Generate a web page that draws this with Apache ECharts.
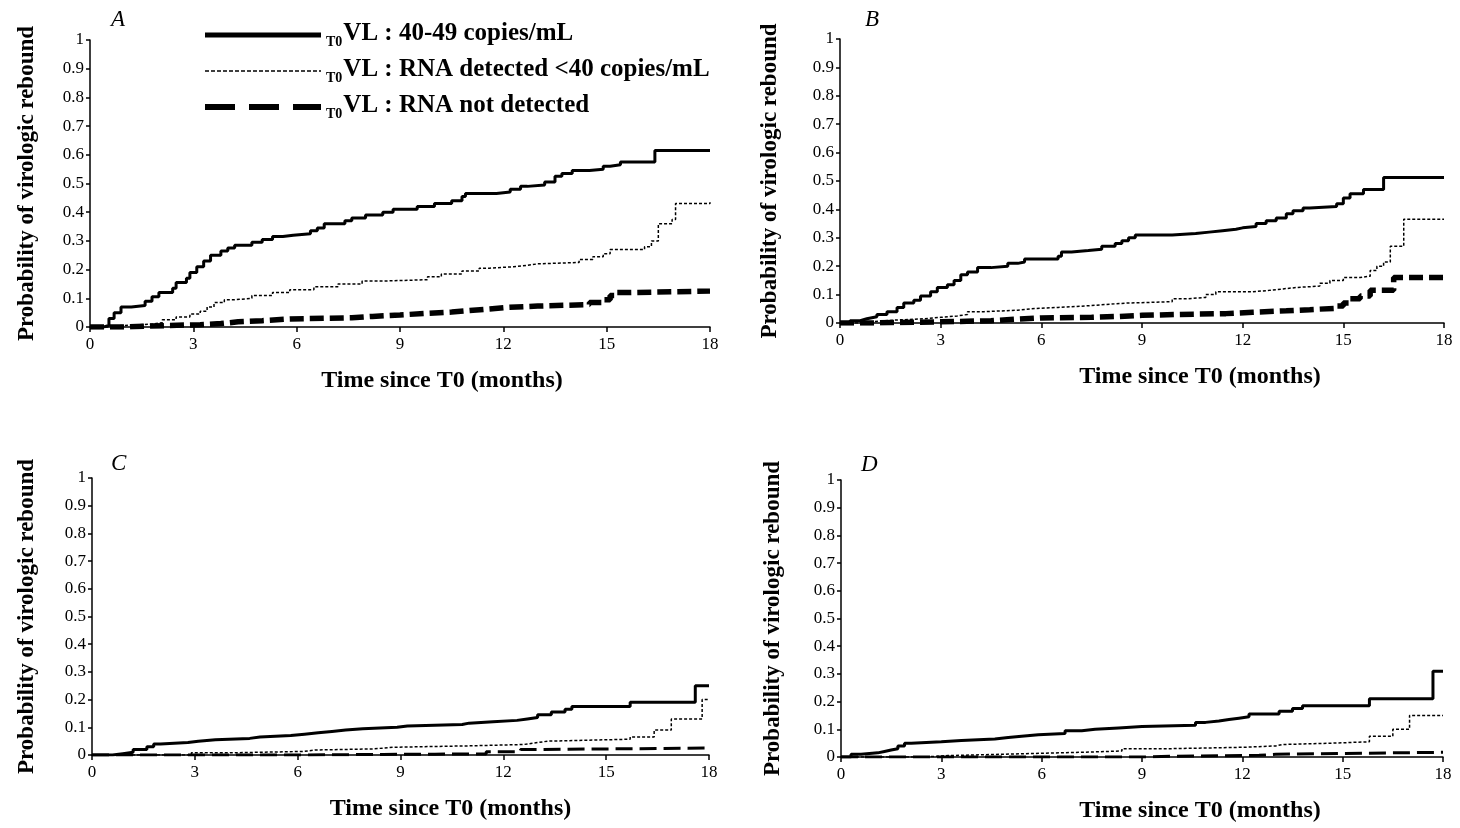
<!DOCTYPE html>
<html>
<head>
<meta charset="utf-8">
<script src="https://cdn.jsdelivr.net/npm/echarts@6/dist/echarts.min.js"></script>
<style>
html,body{margin:0;padding:0;background:#fff;}
#chart{width:1460px;height:828px;}
</style>
</head>
<body>
<div id="chart"></div>
<script>
// ---------- DATA ----------
const panelLetters = ['A', 'B', 'C', 'D'];
const seriesNames = ['T0VL : 40-49 copies/mL', 'T0VL : RNA detected <40 copies/mL', 'T0VL : RNA not detected'];
const xTicks = [0, 3, 6, 9, 12, 15, 18];
const xTitle = 'Time since T0 (months)';
const yTitle = 'Probability of virologic rebound';

// Panel A  [month, probability]
const A_vl4049 = [[0,0],[0.4,0.005],[0.55,0.03],[0.7,0.05],[0.9,0.07],[1.2,0.075],[1.6,0.09],[1.8,0.105],[2.0,0.12],[2.4,0.135],[2.5,0.155],[2.8,0.17],[2.9,0.19],[3.1,0.21],[3.3,0.23],[3.5,0.25],[3.8,0.265],[4.0,0.275],[4.2,0.285],[4.7,0.295],[5.0,0.305],[5.3,0.315],[5.6,0.32],[5.9,0.325],[6.4,0.335],[6.6,0.345],[6.8,0.36],[7.4,0.37],[7.6,0.38],[8.0,0.39],[8.5,0.4],[8.8,0.41],[9.5,0.42],[10.0,0.43],[10.5,0.44],[10.8,0.455],[10.9,0.465],[11.8,0.47],[12.2,0.48],[12.5,0.49],[12.7,0.495],[13.2,0.505],[13.5,0.525],[13.7,0.535],[14.0,0.545],[14.5,0.55],[14.9,0.56],[15.1,0.565],[15.4,0.575],[16.4,0.615],[18,0.615]];
const A_detected = [[0,0],[0.5,0.005],[0.9,0.01],[1.8,0.015],[2.1,0.025],[2.5,0.035],[2.9,0.045],[3.2,0.055],[3.4,0.07],[3.6,0.085],[3.9,0.095],[4.2,0.1],[4.7,0.11],[5.3,0.12],[5.8,0.13],[6.5,0.14],[7.2,0.15],[7.9,0.16],[8.5,0.165],[9.8,0.175],[10.2,0.185],[10.8,0.195],[11.3,0.205],[11.6,0.21],[12.3,0.215],[12.7,0.22],[13.0,0.225],[14.2,0.235],[14.6,0.245],[14.9,0.255],[15.1,0.27],[16.1,0.28],[16.3,0.3],[16.5,0.36],[16.9,0.375],[17.0,0.43],[18,0.435]];
const A_notDetected = [[0,0],[1.0,0.005],[2.2,0.008],[3.2,0.012],[3.8,0.018],[4.3,0.022],[5.0,0.028],[5.8,0.032],[7.6,0.037],[8.2,0.042],[9.0,0.047],[9.7,0.052],[10.5,0.057],[11.0,0.063],[11.6,0.068],[12.1,0.073],[13.0,0.078],[14.5,0.085],[14.9,0.095],[15.1,0.11],[15.3,0.12],[15.6,0.125],[18,0.125]];

// Panel B
const B_vl4049 = [[0,0],[0.3,0.008],[0.6,0.015],[0.8,0.022],[1.1,0.03],[1.4,0.04],[1.7,0.055],[1.9,0.07],[2.2,0.08],[2.4,0.095],[2.7,0.11],[2.9,0.125],[3.2,0.135],[3.4,0.15],[3.6,0.17],[3.8,0.18],[4.1,0.195],[4.5,0.2],[5.0,0.21],[5.3,0.215],[5.5,0.225],[6.5,0.235],[6.6,0.25],[6.9,0.255],[7.4,0.26],[7.8,0.27],[8.2,0.28],[8.4,0.29],[8.6,0.3],[8.8,0.31],[9.9,0.315],[10.6,0.32],[11.0,0.325],[11.4,0.33],[11.8,0.335],[12.0,0.34],[12.4,0.35],[12.7,0.36],[13.0,0.37],[13.3,0.385],[13.5,0.395],[13.8,0.405],[14.0,0.41],[14.8,0.42],[15.0,0.44],[15.2,0.455],[15.6,0.47],[16.2,0.512],[18,0.512]];
const B_detected = [[0,0],[0.5,0.005],[1.0,0.01],[1.6,0.015],[2.5,0.02],[3.0,0.025],[3.5,0.03],[3.8,0.04],[4.3,0.045],[5.3,0.05],[5.7,0.055],[6.5,0.06],[7.3,0.065],[7.9,0.07],[8.5,0.075],[9.9,0.085],[10.3,0.09],[10.9,0.1],[11.2,0.11],[12.3,0.115],[12.8,0.12],[13.2,0.125],[13.6,0.13],[14.3,0.14],[14.6,0.15],[15.0,0.16],[15.5,0.165],[15.8,0.185],[16.0,0.2],[16.2,0.215],[16.4,0.27],[16.8,0.365],[18,0.365]];
const B_notDetected = [[0,0],[0.8,0.004],[3.0,0.008],[4.5,0.013],[5.2,0.018],[6.0,0.02],[7.5,0.023],[8.3,0.027],[9.0,0.03],[10.0,0.033],[11.5,0.038],[12.3,0.043],[13.3,0.047],[14.0,0.052],[14.8,0.06],[15.0,0.07],[15.2,0.085],[15.5,0.095],[15.8,0.115],[16.5,0.16],[18,0.16]];

// Panel C
const C_vl4049 = [[0,0],[0.6,0.005],[0.9,0.01],[1.2,0.02],[1.6,0.03],[1.8,0.04],[2.0,0.045],[2.8,0.05],[3.1,0.055],[3.6,0.06],[4.6,0.065],[4.9,0.07],[5.8,0.075],[6.2,0.08],[6.6,0.085],[7.0,0.09],[7.4,0.095],[7.9,0.1],[8.9,0.105],[9.2,0.11],[10.8,0.115],[11.0,0.12],[11.7,0.125],[12.4,0.13],[12.7,0.135],[13.0,0.145],[13.4,0.155],[13.8,0.165],[14.0,0.175],[15.7,0.19],[17.6,0.25],[18,0.25]];
const C_detected = [[0,0],[2.9,0.008],[4.1,0.013],[6.2,0.018],[6.5,0.022],[8.2,0.028],[8.8,0.033],[11.0,0.038],[12.6,0.045],[13.0,0.05],[13.3,0.057],[15.7,0.065],[16.4,0.09],[16.9,0.13],[17.8,0.2],[18,0.2]];
const C_notDetected = [[0,0],[6.0,0.002],[8.5,0.003],[10.0,0.004],[11.5,0.012],[12.5,0.02],[13.0,0.025],[18,0.025]];

// Panel D
const D_vl4049 = [[0,0],[0.3,0.01],[0.6,0.015],[1.1,0.02],[1.3,0.025],[1.5,0.03],[1.7,0.04],[1.9,0.05],[2.1,0.055],[3.0,0.06],[3.6,0.065],[4.6,0.07],[5.0,0.075],[5.4,0.08],[5.9,0.085],[6.7,0.095],[7.2,0.1],[7.6,0.105],[8.3,0.11],[9.0,0.115],[10.6,0.125],[10.9,0.13],[11.3,0.135],[11.6,0.14],[11.9,0.145],[12.2,0.155],[13.1,0.165],[13.5,0.175],[13.8,0.185],[15.8,0.21],[17.7,0.31],[18,0.31]];
const D_detected = [[0,0],[2.5,0.005],[3.2,0.008],[4.2,0.013],[5.8,0.018],[7.5,0.022],[8.4,0.03],[9.8,0.035],[12.0,0.04],[13.0,0.045],[13.2,0.05],[14.7,0.055],[15.8,0.075],[16.5,0.1],[17.0,0.15],[18,0.15]];
const D_notDetected = [[0,0],[9.0,0.003],[10.0,0.006],[12.5,0.01],[13.0,0.017],[18,0.017]];

const panelData = [
  [A_vl4049, A_detected, A_notDetected],
  [B_vl4049, B_detected, B_notDetected],
  [C_vl4049, C_detected, C_notDetected],
  [D_vl4049, D_detected, D_notDetected]
];

// ---------- LAYOUT / STYLE ----------
const FONT = 'Liberation Serif';
const grids = [
  {left: 90,  top: 40,  width: 620, height: 287},
  {left: 840, top: 39,  width: 604, height: 284},
  {left: 92,  top: 478, width: 617, height: 277},
  {left: 841, top: 480, width: 602, height: 277}
];
const letterPos = [[111, 8], [865, 8], [111, 452], [861, 453]];
const xNamePad = [84, 116, 100, 116];
const yNameGap = [51, 58, 53, 56];

function lineStyleFor(panel, k) {
  if (k === 0) return {color: '#000', width: 3, type: 'solid'};
  if (k === 1) return {color: '#000', width: 1.5, type: [3, 2]};
  if (panel < 2) return {color: '#000', width: 5.5, type: [14, 6]};
  return {color: '#000', width: 3, type: [17, 7]};
}

const option = {
  backgroundColor: '#fff',
  animation: false,
  title: panelLetters.map((t, i) => ({
    text: t, left: letterPos[i][0], top: letterPos[i][1], padding: 0,
    textStyle: {fontFamily: FONT, fontStyle: 'italic', fontWeight: 'normal', fontSize: 23, color: '#000'}
  })),
  legend: {
    orient: 'vertical', left: 197, top: 16, itemWidth: 116, itemHeight: 14, itemGap: 8,
    itemStyle: {color: 'rgba(0,0,0,0)', borderWidth: 0, opacity: 0},
    data: [
      {name: seriesNames[0], lineStyle: {width: 5, type: 'solid', color: '#000'}},
      {name: seriesNames[1], lineStyle: {width: 1.5, type: [4, 2], color: '#000'}},
      {name: seriesNames[2], lineStyle: {width: 6, type: [30, 14], color: '#000'}}
    ],
    formatter: name => '{s|T0}{m|' + name.slice(2) + '}',
    textStyle: {
      color: '#000', fontFamily: FONT, fontWeight: 'bold', fontSize: 25,
      rich: {
        s: {fontFamily: FONT, fontWeight: 'bold', fontSize: 14, lineHeight: 14, verticalAlign: 'bottom', color: '#000', padding: [0, 1, 0, 0]},
        m: {fontFamily: FONT, fontWeight: 'bold', fontSize: 25, lineHeight: 28, verticalAlign: 'bottom', color: '#000', padding: [0, 0, 3, 0]}
      }
    }
  },
  grid: grids.map(g => Object.assign({containLabel: false}, g)),
  xAxis: grids.map((g, i) => ({
    type: 'value', gridIndex: i, min: xTicks[0], max: xTicks[xTicks.length - 1], interval: 3,
    name: xTitle, nameLocation: 'middle', nameGap: 42,
    nameTextStyle: {fontFamily: FONT, fontWeight: 'bold', fontSize: 24, color: '#000', padding: [0, 0, 0, xNamePad[i]]},
    axisLine: {show: true, onZero: false, lineStyle: {color: '#000', width: 1.5}},
    axisTick: {show: true, length: 5, lineStyle: {color: '#000', width: 1.5}},
    axisLabel: {fontFamily: FONT, fontSize: 17, color: '#000', margin: 9},
    splitLine: {show: false}
  })),
  yAxis: grids.map((g, i) => ({
    type: 'value', gridIndex: i, min: 0, max: 1, interval: 0.1,
    name: yTitle, nameLocation: 'middle', nameGap: yNameGap[i], nameRotate: 90,
    nameTextStyle: {fontFamily: FONT, fontWeight: 'bold', fontSize: 23, color: '#000'},
    axisLine: {show: true, lineStyle: {color: '#000', width: 1.5}},
    axisTick: {show: true, length: 4, lineStyle: {color: '#000', width: 1.5}},
    axisLabel: {fontFamily: FONT, fontSize: 17, color: '#000', margin: 6},
    splitLine: {show: false}
  })),
  series: []
};

panelData.forEach((sets, p) => {
  sets.forEach((data, k) => {
    option.series.push({
      type: 'line', name: seriesNames[k], xAxisIndex: p, yAxisIndex: p,
      data: data, step: 'end', symbol: 'none', showSymbol: false,
      lineStyle: lineStyleFor(p, k), itemStyle: {color: '#000'},
      z: 3 - k
    });
  });
});

const chart = echarts.init(document.getElementById('chart'), null, {renderer: 'canvas'});
chart.setOption(option);
</script>
</body>
</html>
